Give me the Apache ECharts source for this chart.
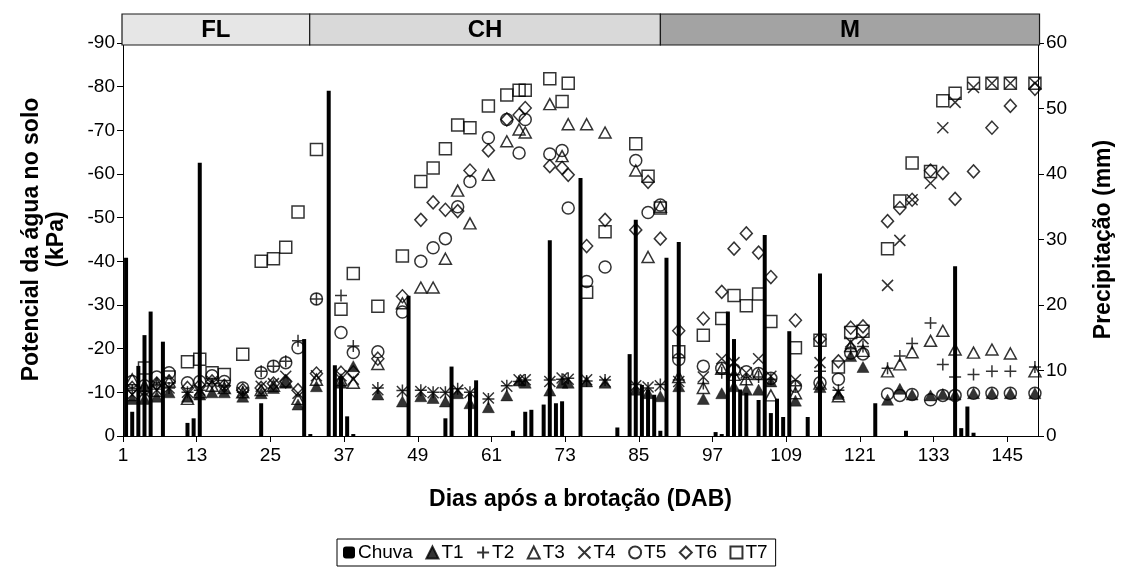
<!DOCTYPE html>
<html>
<head>
<meta charset="utf-8">
<script src="https://cdn.jsdelivr.net/npm/echarts@6/dist/echarts.min.js"></script>
<style>
  html, body { margin: 0; padding: 0; background: #ffffff; }
  #chart { width: 1123px; height: 573px; }
</style>
</head>
<body>
<div id="chart"></div>
<script>
// Daily rainfall (mm) on the days it rained
const rainDays = [1,2,3,4,5,7,11,12,13,23,30,31,34,35,36,37,38,47,53,54,57,58,64,66,67,69,70,71,72,75,81,83,84,85,86,87,88,89,91,97,98,99,100,101,102,104,105,106,107,108,109,112,114,123,128,136,137,138,139];
const rainMm   = [27.2,3.7,10.7,15.4,19.0,14.4,2.0,2.7,41.7,5.0,14.8,0.3,52.7,10.8,9.1,3.0,0.3,21.4,2.7,10.6,6.6,8.5,0.8,3.7,4.0,4.8,29.9,5.0,5.3,39.4,1.3,12.5,33.0,7.8,7.1,6.3,0.8,27.2,29.6,0.6,0.3,19.0,14.8,7.1,6.6,5.5,30.7,3.5,5.7,2.9,16.0,2.9,24.8,5.0,0.8,25.9,1.2,4.5,0.5];

// Soil water potential readings (kPa) per treatment
const readDays = [2,4,6,8,11,13,15,17,20,23,25,27,29,32,
  36,38,42,46,49,51,53,55,57,60,63,65,66,70,72,73,76,79,84,86,88,
  91,95,98,100,102,104,106,110,114,117,119,121,125,127,129,132,134,136,139,142,145,149];

const T1 = [-8.5,-8.5,-9.0,-10.0,-9.0,-9.5,-10.0,-10.0,-9.0,-9.8,-11.0,-12.2,-7.2,-11.4,
  -12.2,-16.0,-9.5,-7.9,-9.1,-8.7,-7.9,-9.8,-7.5,-6.6,-9.3,-12.7,-12.2,-10.4,-12.2,-12.2,-12.5,-12.2,-10.6,-9.8,-9.1,
  -11.4,-8.5,-9.8,-11.4,-10.6,-10.6,-12.5,-8.1,-11.2,-9.6,-18.3,-15.8,-8.3,-10.8,-9.5,-9.3,-9.6,-9.5,-9.8,-9.8,-9.8,-9.8];
const T2 = [-10.5,-11.0,-11.5,-11.0,-10.0,-10.5,-12.0,-11.5,-10.0,-14.8,-16.0,-17.1,-21.8,-31.4,
  -32.2,-20.6,-11.0,-10.4,-10.5,-10.0,-10.0,-10.8,-10.0,-8.5,-11.5,-12.5,-12.8,-12.8,-13.0,-13.2,-12.6,-12.8,-11.8,-11.0,-11.8,
  -12.8,-12.0,-14.5,-14.0,-13.0,-13.5,-13.0,-11.5,-14.8,-10.5,-20.0,-20.5,-15.5,-18.3,-21.2,-25.9,-16.4,-13.5,-14.1,-14.8,-14.8,-15.8];
const T3 = [-13.0,-11.5,-12.0,-12.5,-8.5,-10.0,-11.5,-11.0,-10.0,-10.5,-11.5,-12.5,-8.5,-12.9,
  -12.8,-12.2,-16.5,-30.4,-34.0,-34.0,-40.6,-56.2,-48.7,-59.8,-67.5,-70.2,-69.5,-76.0,-64.1,-71.4,-71.4,-69.5,-60.8,-41.0,-52.5,
  -13.5,-11.0,-15.4,-14.0,-13.0,-14.2,-9.3,-9.8,-12.0,-9.1,-20.6,-19.5,-14.8,-16.4,-19.2,-21.8,-24.1,-19.8,-19.1,-19.8,-18.9,-14.8];
const T4 = [-9.5,-10.0,-10.5,-11.0,-10.0,-10.5,-12.5,-11.0,-10.0,-11.4,-12.0,-13.7,-9.8,-13.8,
  -13.8,-13.0,-10.6,-10.2,-10.2,-9.9,-9.9,-10.5,-9.9,-8.7,-11.4,-12.9,-12.9,-12.5,-13.3,-13.0,-12.9,-12.5,-11.5,-11.2,-11.5,
  -12.5,-13.5,-17.7,-16.8,-14.5,-17.7,-13.7,-12.9,-16.8,-10.0,-21.5,-22.3,-34.5,-44.8,-54.1,-57.9,-70.6,-76.4,-79.8,-80.8,-80.8,-80.8];
const T5 = [-12.5,-11.5,-13.5,-14.5,-12.2,-12.5,-13.8,-12.5,-11.0,-14.5,-16.0,-16.8,-20.2,-31.4,
  -23.7,-19.1,-19.3,-28.4,-40.0,-43.1,-45.2,-52.5,-58.3,-68.3,-72.5,-64.8,-72.5,-64.6,-65.4,-52.2,-35.4,-38.7,-63.1,-51.2,-52.9,
  -17.5,-16.0,-15.5,-15.2,-14.7,-14.3,-13.2,-11.4,-12.2,-13.0,-19.0,-18.8,-9.6,-9.3,-9.5,-8.3,-9.3,-9.3,-9.8,-9.8,-9.8,-9.8];
const T6 = [-11.0,-10.5,-12.0,-12.5,-11.0,-11.5,-12.5,-11.5,-10.5,-11.0,-12.0,-12.5,-10.5,-14.3,
  -14.5,-14.6,-17.7,-32.0,-49.5,-53.5,-51.8,-51.5,-60.8,-65.4,-72.5,-73.5,-75.1,-61.8,-61.4,-59.8,-43.5,-49.5,-47.2,-58.2,-45.2,
  -24.1,-26.9,-33.0,-42.9,-46.4,-42.0,-36.4,-26.5,-22.2,-17.1,-24.8,-25.1,-49.2,-52.2,-54.1,-60.8,-60.2,-54.3,-60.6,-70.6,-75.6,-79.5];
const T7 = [-9.5,-15.6,-10.5,-13.5,-17.0,-17.6,-14.5,-14.1,-18.7,-40.0,-40.6,-43.2,-51.3,-65.6,
  -29.0,-37.2,-29.7,-41.2,-58.3,-61.4,-65.8,-71.2,-70.6,-75.6,-78.1,-79.2,-79.2,-81.8,-76.6,-80.8,-32.9,-46.8,-66.9,-59.5,-52.2,
  -19.3,-23.1,-26.9,-32.2,-29.8,-32.5,-26.2,-20.2,-21.9,-15.8,-23.7,-24.0,-42.9,-53.8,-62.5,-60.6,-76.8,-78.5,-80.8,-80.8,-80.8,-80.8];

// Phenological phases (day boundaries on the DAB axis)
const phaseNames = ['FL', 'CH', 'M'];
const phaseStart = [1, 31.4, 88.2];
const phaseEnd   = [31.4, 88.2, 149.6];
const phaseFill  = ['#e6e6e6', '#d9d9d9', '#a3a3a3'];

// x axis runs in "offset" units: value 0 is tick "1"; a day sits in the middle of its cell
const dayPos = d => d - 0.5;
const tickPos = d => d - 1;

const FONT = "'Liberation Sans', Arial, sans-serif";
const INK = '#000000';

const pts = arr => readDays.map((d, i) => [dayPos(d), arr[i]]);

const openStyle = { color: 'transparent', borderColor: INK, borderWidth: 1.5 };
const crossPath = 'path://M0,0L10,10M10,0L0,10';
const plusPath  = 'path://M5,0L5,10M0,5L10,5';

const chart = echarts.init(document.getElementById('chart'), null, { renderer: 'canvas' });

const option = {
  backgroundColor: '#ffffff',
  animation: false,
  textStyle: { fontFamily: FONT, color: INK },
  grid: [
    { left: 123, right: 79, top: 43, bottom: 137, containLabel: false },
    { left: 122, right: 81, top: 14, height: 31, containLabel: false }
  ],
  xAxis: [
    {
      type: 'value', gridIndex: 0, min: 0, max: 149, interval: 12,
      axisLine: { show: true, onZero: false, lineStyle: { color: INK, width: 1 } },
      axisTick: { show: true, inside: false, length: 6, lineStyle: { color: INK } },
      axisLabel: { color: INK, fontSize: 19, fontFamily: FONT, margin: 10,
        formatter: v => String(v + 1), showMaxLabel: false },
      splitLine: { show: false },
      name: 'Dias após a brotação (DAB)', nameLocation: 'middle', nameGap: 52,
      nameTextStyle: { fontSize: 23, fontWeight: 'bold', color: INK, fontFamily: FONT }
    },
    { type: 'value', gridIndex: 1, min: 0, max: 149, show: false }
  ],
  yAxis: [
    {
      type: 'value', gridIndex: 0, min: -90, max: 0, interval: 10, inverse: true,
      axisLine: { show: true, lineStyle: { color: INK, width: 1 } },
      axisTick: { show: true, inside: false, length: 6, lineStyle: { color: INK } },
      axisLabel: { color: INK, fontSize: 19, fontFamily: FONT, margin: 8 },
      splitLine: { show: false },
      name: 'Potencial da água no solo\n(kPa)', nameLocation: 'middle', nameRotate: 90, nameGap: 54,
      nameTextStyle: { fontSize: 23, fontWeight: 'bold', color: INK, fontFamily: FONT, lineHeight: 25, align: 'center' }
    },
    {
      type: 'value', gridIndex: 0, min: 0, max: 60, interval: 10, position: 'right',
      axisLine: { show: true, lineStyle: { color: INK, width: 1 } },
      axisTick: { show: true, inside: false, length: 6, lineStyle: { color: INK } },
      axisLabel: { color: INK, fontSize: 19, fontFamily: FONT, margin: 8 },
      splitLine: { show: false },
      name: 'Precipitação (mm)', nameLocation: 'middle', nameRotate: 90, nameGap: 54,
      nameTextStyle: { fontSize: 23, fontWeight: 'bold', color: INK, fontFamily: FONT }
    },
    { type: 'value', gridIndex: 1, min: 0, max: 1, show: false }
  ],
  legend: {
    left: 337, top: 539,
    orient: 'horizontal',
    borderColor: INK, borderWidth: 1, borderRadius: 0,
    padding: [4, 8, 4, 6],
    itemGap: 12.5, itemWidth: 12, itemHeight: 12,
    textStyle: { fontSize: 19, fontFamily: FONT, color: INK, padding: [0, 0, 0, -2] },
    data: ['Chuva', 'T1', 'T2', 'T3', 'T4', 'T5', 'T6', 'T7']
  },
  series: [
    {
      name: 'Chuva', type: 'bar', xAxisIndex: 0, yAxisIndex: 1,
      barWidth: 4, barGap: '-100%',
      itemStyle: { color: INK },
      data: rainDays.map((d, i) => [dayPos(d), rainMm[i]]),
      z: 2
    },
    {
      name: 'T1', type: 'scatter', xAxisIndex: 0, yAxisIndex: 0,
      symbol: 'triangle', symbolSize: [12, 11],
      itemStyle: { color: INK, borderColor: INK, borderWidth: 0.5 },
      data: pts(T1), z: 3
    },
    {
      name: 'T2', type: 'scatter', xAxisIndex: 0, yAxisIndex: 0,
      symbol: plusPath, symbolSize: 12,
      itemStyle: openStyle,
      data: pts(T2), z: 3
    },
    {
      name: 'T3', type: 'scatter', xAxisIndex: 0, yAxisIndex: 0,
      symbol: 'triangle', symbolSize: [12, 11],
      itemStyle: openStyle,
      data: pts(T3), z: 3
    },
    {
      name: 'T4', type: 'scatter', xAxisIndex: 0, yAxisIndex: 0,
      symbol: crossPath, symbolSize: 11,
      itemStyle: openStyle,
      data: pts(T4), z: 3
    },
    {
      name: 'T5', type: 'scatter', xAxisIndex: 0, yAxisIndex: 0,
      symbol: 'circle', symbolSize: 12,
      itemStyle: openStyle,
      data: pts(T5), z: 3
    },
    {
      name: 'T6', type: 'scatter', xAxisIndex: 0, yAxisIndex: 0,
      symbol: 'diamond', symbolSize: [12, 13],
      itemStyle: openStyle,
      data: pts(T6), z: 3
    },
    {
      name: 'T7', type: 'scatter', xAxisIndex: 0, yAxisIndex: 0,
      symbol: 'rect', symbolSize: 12,
      itemStyle: openStyle,
      data: pts(T7), z: 3
    },
    {
      // phase band above the plot
      name: 'phases', type: 'custom', xAxisIndex: 1, yAxisIndex: 2,
      silent: true, legendHoverLink: false,
      data: phaseNames.map((n, i) => [tickPos(phaseStart[i]), tickPos(phaseEnd[i]), i]),
      renderItem: (params, api) => {
        const i = api.value(2);
        const p0 = api.coord([api.value(0), 1]);
        const p1 = api.coord([api.value(1), 0]);
        return {
          type: 'group',
          children: [
            {
              type: 'rect',
              shape: { x: p0[0], y: p0[1], width: p1[0] - p0[0], height: p1[1] - p0[1] },
              style: { fill: phaseFill[i], stroke: '#1a1a1a', lineWidth: 1.2 }
            },
            {
              type: 'text',
              style: {
                x: (p0[0] + p1[0]) / 2, y: (p0[1] + p1[1]) / 2 + 1,
                text: phaseNames[i], align: 'center', verticalAlign: 'middle',
                font: 'bold 24px ' + FONT, fill: INK
              }
            }
          ]
        };
      }
    }
  ]
};

chart.setOption(option);
</script>
</body>
</html>
